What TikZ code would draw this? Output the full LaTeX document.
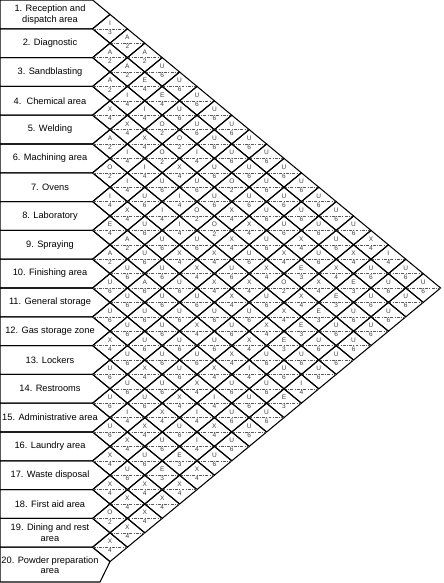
\documentclass[tikz,border=0pt]{standalone}
\usepackage{fontspec}
\setmainfont{Liberation Sans}
\usetikzlibrary{shapes.geometric}

\tikzset{
  deptbox/.style={draw=black, line width=0.9pt, line join=miter},
  deptlabel/.style={align=center, font=\fontsize{7.9}{9}\selectfont, inner sep=0pt},
  cell/.style={diamond, draw=black, line width=0.9pt, minimum width=1.044cm,
    minimum height=0.864cm, inner sep=0pt, outer sep=0pt},
  midline/.style={black!65, line width=0.4pt, dash pattern=on 2.5pt off 1.2pt on 0.6pt off 1.2pt},
  reltext/.style={font=\fontsize{5.6}{6}\selectfont, text=black!75, inner sep=0pt},
}

% one relation cell: row, column, letter, reason
\newcommand{\relcell}[4]{%
  \pgfmathsetmacro{\cx}{110+(#2-#1-1)*17.4}
  \pgfmathsetmacro{\cy}{(#1+#2-1)*14.4}
  \node[cell] (c#1-#2) at (\cx,\cy) {};
  \draw[midline] (c#1-#2.west) -- (c#1-#2.east);
  \node[reltext] (l#1-#2) at ([yshift=0.17cm]c#1-#2.center) {#3};
  \node[reltext] (n#1-#2) at ([yshift=-0.1cm]c#1-#2.center) {#4};
}

\begin{document}
\begin{tikzpicture}[x=0.03cm, y=-0.03cm]
        \useasboundingbox (0,0) rectangle (443,583);
        % boxes
        \foreach \i in {1,...,19}
            \draw[deptbox] (0,{(\i-1)*28.8}) -- (92.6,{(\i-1)*28.8}) -- (110,{(\i-0.5)*28.8})
                -- (92.6,{\i*28.8}) -- (0,{\i*28.8}) -- cycle;
        \draw[deptbox] (0,547.2) -- (92.6,547.2) -- (110,561.6) -- (100,582) -- (0,582) -- cycle;

        % names
        \node[deptlabel] (d1) at (50,14.4){1. Reception and\\dispatch area};
        \node[deptlabel] (d2) at (50,43.2){2. Diagnostic};
        \node[deptlabel] (d3) at (50,72){3. Sandblasting};
        \node[deptlabel] (d4) at (50,100.8){4.\ \ Chemical area};
        \node[deptlabel] (d5) at (50,129.6){5. Welding};
        \node[deptlabel] (d6) at (50,158.4){6. Machining area};
        \node[deptlabel] (d7) at (50,187.2){7. Ovens};
        \node[deptlabel] (d8) at (50,216){8. Laboratory};
        \node[deptlabel] (d9) at (50,244.8){9. Spraying};
        \node[deptlabel] (d10) at (50,273.6){10. Finishing area};
        \node[deptlabel] (d11) at (50,302.4){11. General storage};
        \node[deptlabel] (d12) at (50,331.2){12. Gas storage zone};
        \node[deptlabel] (d13) at (50,360){13. Lockers};
        \node[deptlabel] (d14) at (50,388.8){14. Restrooms};
        \node[deptlabel] (d15) at (50,417.6){15. Administrative area};
        \node[deptlabel] (d16) at (50,446.4){16. Laundry area};
        \node[deptlabel] (d17) at (50,475.2){17. Waste disposal};
        \node[deptlabel] (d18) at (50,504){18. First aid area};
        \node[deptlabel] (d19) at (50,532.8){19. Dining and rest\\area};
        \node[deptlabel] (d20) at (50,565){20. Powder preparation\\area};

        % relations
        \foreach \j/\l/\n in {2/I/3, 3/A/2, 4/A/2, 5/U/6, 6/U/6, 7/U/6, 8/U/6, 9/U/6, 10/U/6, 11/U/6, 12/U/6, 13/U/6, 14/U/6, 15/U/6, 16/U/6, 17/X/4, 18/I/4, 19/U/6, 20/U/6}
            \relcell{1}{\j}{\l}{\n};
        \foreach \j/\l/\n in {3/A/2, 4/A/2, 5/E/4, 6/E/4, 7/U/6, 8/U/6, 9/U/6, 10/U/6, 11/U/6, 12/U/6, 13/U/6, 14/U/6, 15/U/6, 16/U/6, 17/X/4, 18/U/6, 19/U/6, 20/U/6}
            \relcell{2}{\j}{\l}{\n};
        \foreach \j/\l/\n in {4/A/2, 5/I/4, 6/I/4, 7/O/2, 8/O/2, 9/I/4, 10/U/6, 11/O/2, 12/U/6, 13/U/6, 14/U/6, 15/X/4, 16/U/6, 17/X/4, 18/E/3, 19/U/6, 20/U/6}
            \relcell{3}{\j}{\l}{\n};
        \foreach \j/\l/\n in {5/X/4, 6/X/4, 7/X/4, 8/O/2, 9/X/4, 10/U/6, 11/U/6, 12/X/4, 13/X/4, 14/U/6, 15/X/4, 16/E/3, 17/X/4, 18/E/3, 19/U/6, 20/U/6}
            \relcell{4}{\j}{\l}{\n};
        \foreach \j/\l/\n in {6/A/2, 7/I/4, 8/I/4, 9/U/6, 10/I/4, 11/O/2, 12/O/2, 13/X/4, 14/U/6, 15/X/4, 16/O/2, 17/X/4, 18/E/3, 19/U/6, 20/U/6}
            \relcell{5}{\j}{\l}{\n};
        \foreach \j/\l/\n in {7/O/2, 8/I/4, 9/U/6, 10/I/4, 11/I/4, 12/U/6, 13/X/4, 14/U/6, 15/X/4, 16/U/6, 17/X/4, 18/E/3, 19/U/6, 20/U/6}
            \relcell{6}{\j}{\l}{\n};
        \foreach \j/\l/\n in {8/I/4, 9/X/4, 10/U/6, 11/U/6, 12/X/4, 13/X/4, 14/X/4, 15/X/4, 16/U/6, 17/X/4, 18/E/3, 19/U/6, 20/U/6}
            \relcell{7}{\j}{\l}{\n};
        \foreach \j/\l/\n in {9/E/4, 10/A/2, 11/U/6, 12/U/6, 13/U/6, 14/U/6, 15/U/6, 16/U/6, 17/X/4, 18/U/6, 19/U/6, 20/I/4}
            \relcell{8}{\j}{\l}{\n};
        \foreach \j/\l/\n in {10/A/2, 11/U/6, 12/A/6, 13/U/6, 14/U/6, 15/X/4, 16/U/6, 17/X/4, 18/I/4, 19/U/6, 20/E/3}
            \relcell{9}{\j}{\l}{\n};
        \foreach \j/\l/\n in {11/U/6, 12/U/6, 13/U/6, 14/U/6, 15/U/6, 16/U/6, 17/X/4, 18/U/6, 19/U/6, 20/U/6}
            \relcell{10}{\j}{\l}{\n};
        \foreach \j/\l/\n in {12/U/6, 13/U/6, 14/U/6, 15/U/6, 16/U/6, 17/X/4, 18/I/4, 19/U/6, 20/U/6}
            \relcell{11}{\j}{\l}{\n};
        \foreach \j/\l/\n in {13/X/4, 14/U/6, 15/X/4, 16/U/6, 17/X/4, 18/I/4, 19/X/4, 20/U/6}
            \relcell{12}{\j}{\l}{\n};
        \foreach \j/\l/\n in {14/U/6, 15/U/6, 16/U/6, 17/X/4, 18/U/6, 19/I/4, 20/U/6}
            \relcell{13}{\j}{\l}{\n};
        \foreach \j/\l/\n in {15/U/6, 16/I/4, 17/X/4, 18/U/6, 19/E/3, 20/X/4}
            \relcell{14}{\j}{\l}{\n};
        \foreach \j/\l/\n in {16/U/6, 17/X/4, 18/U/6, 19/E/3, 20/X/4}
            \relcell{15}{\j}{\l}{\n};
        \foreach \j/\l/\n in {17/X/4, 18/U/6, 19/X/4, 20/X/4}
            \relcell{16}{\j}{\l}{\n};
        \foreach \j/\l/\n in {18/X/4, 19/X/4, 20/X/4}
            \relcell{17}{\j}{\l}{\n};
        \foreach \j/\l/\n in {19/O/2, 20/X/4}
            \relcell{18}{\j}{\l}{\n};
        \relcell{19}{20}{X}{4}
    \end{tikzpicture}
\end{document}
